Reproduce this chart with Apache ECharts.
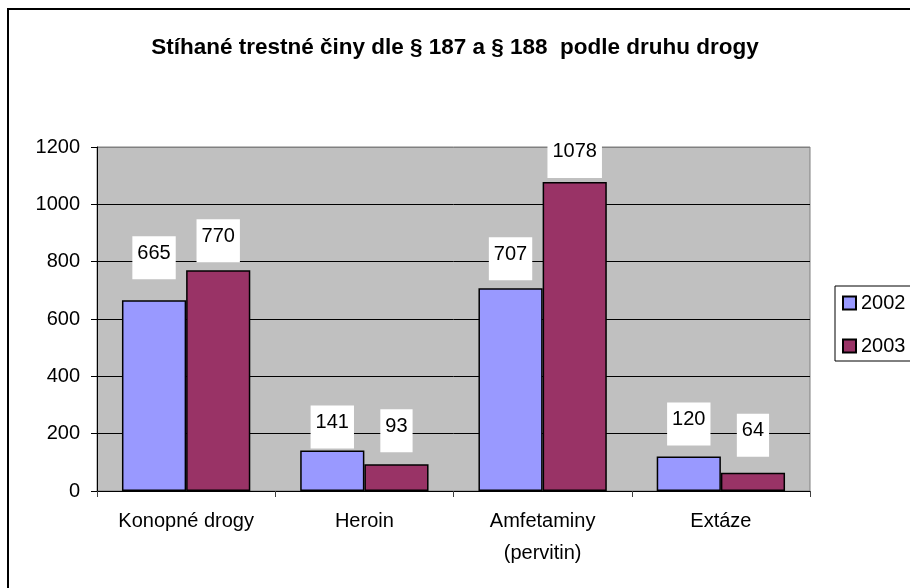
<!DOCTYPE html>
<html>
<head>
<meta charset="utf-8">
<script src="https://cdn.jsdelivr.net/npm/echarts@6/dist/echarts.min.js"></script>
<style>
  html, body { margin: 0; padding: 0; background: #fff; }
  #chart { width: 910px; height: 588px; }
</style>
</head>
<body>
<div id="chart"></div>
<script>
const categories = ['Konopné drogy', 'Heroin', 'Amfetaminy\n(pervitin)', 'Extáze'];
const years = ['2002', '2003'];
const values2002 = [665, 141, 707, 120];
const values2003 = [770, 93, 1078, 64];
const yTicks = [0, 200, 400, 600, 800, 1000, 1200];

// label lift above bar top (px) - labels in the original sit at uneven heights
const lift2002 = [21, 2, 8, 11];
const lift2003 = [8, 12, 4, 16];

const FONT = "'Liberation Sans', Arial, sans-serif";

function seriesData(values, lifts) {
  return values.map((v, i) => ({ value: v, label: { distance: lifts[i] } }));
}

const labelStyle = {
  show: true, position: 'top', color: '#000', fontFamily: FONT, fontSize: 20,
  backgroundColor: '#fff', padding: [7, 5, 16, 5], lineHeight: 20
};

const chart = echarts.init(document.getElementById('chart'));
chart.setOption({
  animation: false,
  backgroundColor: '#fff',
  title: {
    text: 'Stíhané trestné činy dle § 187 a § 188  podle druhu drogy',
    left: 'center', top: 31,
    textStyle: { fontFamily: FONT, fontSize: 22.5, fontWeight: 'bold', color: '#000' }
  },
  graphic: [{
    type: 'rect', z: -1, silent: true,
    shape: { x: 8, y: 9, width: 1000, height: 1000 },
    style: { fill: 'none', stroke: '#000', lineWidth: 2 }
  }],
  legend: {
    orient: 'vertical', left: 835, top: 286,
    data: years,
    icon: 'rect', itemWidth: 13, itemHeight: 13, itemGap: 23,
    padding: [7, 20, 5, 7],
    backgroundColor: '#fff', borderColor: '#000', borderWidth: 1,
    textStyle: { fontFamily: FONT, fontSize: 20, color: '#000' }
  },
  grid: {
    left: 97, top: 147, right: 100, bottom: 97,
    show: true, backgroundColor: '#C0C0C0', borderColor: '#808080', borderWidth: 1
  },
  xAxis: {
    type: 'category', data: categories,
    axisLine: { lineStyle: { color: '#000', width: 1 } },
    axisTick: { show: true, length: 6, lineStyle: { color: '#404040' } },
    axisLabel: { color: '#000', fontFamily: FONT, fontSize: 20, lineHeight: 32, margin: 14 }
  },
  yAxis: {
    type: 'value', min: yTicks[0], max: yTicks[yTicks.length - 1], interval: yTicks[1] - yTicks[0],
    axisLine: { show: true, lineStyle: { color: '#000', width: 1 } },
    axisTick: { show: true, length: 6, lineStyle: { color: '#000' } },
    axisLabel: { color: '#000', fontFamily: FONT, fontSize: 20, margin: 17, formatter: v => String(v) },
    splitLine: { show: true, lineStyle: { color: ['#000', '#000', '#000', '#000', '#000', '#000', '#808080'], width: 1 } }
  },
  series: [
    {
      name: years[0], type: 'bar', barGap: '0%', barCategoryGap: '28%',
      itemStyle: { color: '#9999FF', borderColor: '#000', borderWidth: 1.5 },
      label: labelStyle,
      data: seriesData(values2002, lift2002)
    },
    {
      name: years[1], type: 'bar', barGap: '0%', barCategoryGap: '28%',
      itemStyle: { color: '#993366', borderColor: '#000', borderWidth: 1.5 },
      label: labelStyle,
      data: seriesData(values2003, lift2003)
    }
  ]
});
</script>
</body>
</html>
